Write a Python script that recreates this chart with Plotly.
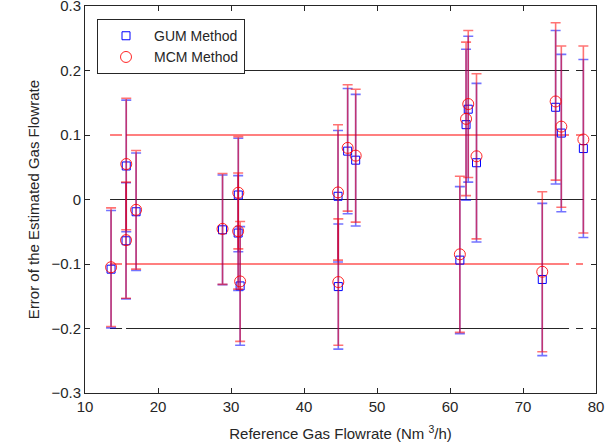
import plotly.graph_objects as go

# Reference gas flowrate of each test point (Nm^3/h)
flowrate = [13.57, 15.65, 15.62, 17.0, 28.84, 31.0, 30.98, 31.25, 44.66, 44.7,
            45.98, 47.08, 61.35, 62.2, 62.5, 63.63, 72.64, 74.47, 75.25, 78.27]

# GUM method: estimated error and expanded uncertainty
gum_error = [-0.108, 0.052, -0.064, -0.019, -0.047, 0.007, -0.052, -0.134, 0.005, -0.135,
             0.075, 0.061, -0.094, 0.116, 0.140, 0.057, -0.124, 0.143, 0.103, 0.079]
gum_unc = [0.091, 0.102, 0.090, 0.091, 0.085, 0.088, 0.089, 0.092, 0.102, 0.097,
           0.097, 0.102, 0.114, 0.117, 0.113, 0.123, 0.118, 0.119, 0.122, 0.138]

# MCM method: estimated error and expanded uncertainty
mcm_error = [-0.105, 0.055, -0.063, -0.016, -0.0456, 0.0105, -0.049, -0.127, 0.011, -0.128,
             0.080, 0.068, -0.085, 0.125, 0.148, 0.067, -0.112, 0.152, 0.113, 0.093]
mcm_unc = [0.092, 0.102, 0.090, 0.092, 0.086, 0.087, 0.090, 0.093, 0.105, 0.098,
           0.098, 0.103, 0.121, 0.119, 0.114, 0.128, 0.124, 0.122, 0.125, 0.145]

# Tolerance limits drawn across the data range
limit_levels = [0.2, 0.1, 0.0, -0.1, -0.2]
limit_colors = ["#262626", "#ff0000", "#262626", "#ff0000", "#262626"]
limit_span = [13.43, 78.3]

x_ticks = [10, 20, 30, 40, 50, 60, 70, 80]
y_ticks = [0.3, 0.2, 0.1, 0.0, -0.1, -0.2, -0.3]

FONT = "Liberation Sans, Arial, sans-serif"
INK = "#262626"

fig = go.Figure()

for level, color in zip(limit_levels, limit_colors):
    dash = "solid" if level == 0 else "12px,4px,443px,7px,7px"
    fig.add_trace(go.Scatter(
        x=limit_span, y=[level, level], mode="lines",
        line=dict(color=color, width=1.2, dash=dash),
        showlegend=False, hoverinfo="skip",
    ))

fig.add_trace(go.Scatter(
    x=flowrate, y=gum_error, mode="markers", name="GUM Method",
    marker=dict(symbol="square-open", size=8, color="#0000ff",
                line=dict(width=1, color="#0000ff")),
    error_y=dict(type="data", array=gum_unc, visible=True,
                 color="rgba(0,0,255,0.55)", thickness=1.6, width=5),
))

fig.add_trace(go.Scatter(
    x=flowrate, y=mcm_error, mode="markers", name="MCM Method",
    marker=dict(symbol="circle-open", size=11, color="rgba(255,0,0,0.85)",
                line=dict(width=1, color="rgba(255,0,0,0.85)")),
    error_y=dict(type="data", array=mcm_unc, visible=True,
                 color="rgba(255,0,0,0.55)", thickness=1.6, width=5),
))

axis_common = dict(
    showline=True, linecolor=INK, linewidth=1, mirror="ticks",
    ticks="inside", ticklen=5, tickcolor=INK, tickwidth=1,
    showgrid=False, zeroline=False, ticklabeloverflow="allow",
    automargin=False,
    tickfont=dict(family=FONT, size=15, color=INK),
)

fig.update_layout(
    width=610, height=447,
    margin=dict(l=85, r=14, t=6, b=54),
    paper_bgcolor="white", plot_bgcolor="white",
    font=dict(family=FONT, color=INK),
    xaxis=dict(range=[10, 80], tickvals=x_ticks,
               title=dict(text="Reference Gas Flowrate (Nm <sup>3</sup>/h)",
                          font=dict(family=FONT, size=15, color=INK), standoff=14),
               **axis_common),
    yaxis=dict(range=[-0.3, 0.3], tickvals=y_ticks, tickformat=".1~f",
               title=dict(text="Error of the Estimated Gas Flowrate",
                          font=dict(family=FONT, size=15, color=INK), standoff=8),
               **axis_common),
    legend=dict(x=0.0235, y=0.966, xanchor="left", yanchor="top",
                bgcolor="white", bordercolor=INK, borderwidth=1,
                font=dict(family=FONT, size=14, color=INK),
                itemwidth=46, tracegroupgap=0),
)

fig.write_html("out.html")
